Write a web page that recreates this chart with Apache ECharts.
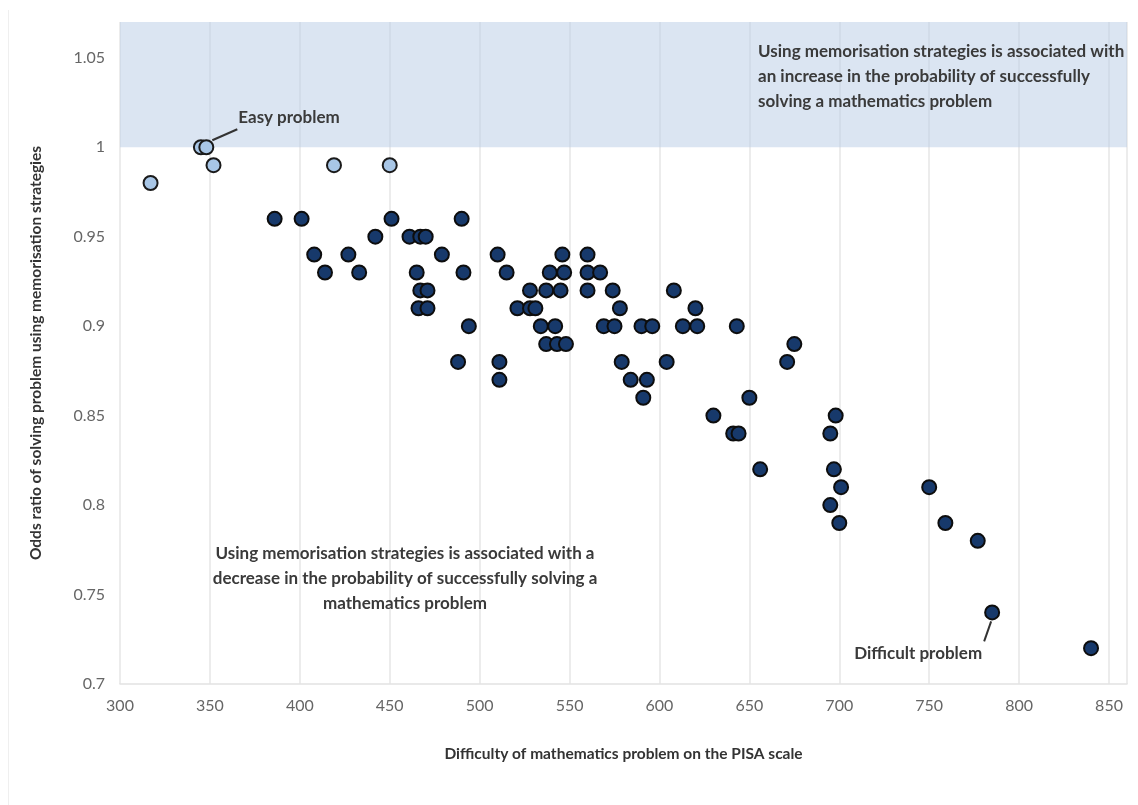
<!DOCTYPE html>
<html>
<head>
<meta charset="utf-8">
<script src="https://cdn.jsdelivr.net/npm/echarts@6/dist/echarts.min.js"></script>
<style>
html,body{margin:0;padding:0;background:#fff;}
#chart{width:1138px;height:805px;}
</style>
</head>
<body>
<div id="chart"></div>
<script>
// Easy problems (odds ratio >= 0.98, light points)
const easyX = [345, 348, 352, 317, 419, 450];
const easyY = [1.00, 1.00, 0.99, 0.98, 0.99, 0.99];

// Other problems (dark points)
const probX = [
  386, 401, 451, 490,
  442, 461, 467, 470,
  408, 427, 479, 510, 546, 560,
  414, 433, 465, 491, 515, 539, 547, 560, 567,
  467, 471, 528, 537, 545, 560, 574, 608,
  466, 471, 521, 528, 531, 578, 620,
  494, 534, 542, 569, 575, 590, 596, 613, 621, 643,
  537, 543, 548, 675,
  488, 511, 579, 604, 671,
  511, 584, 593,
  591, 650,
  630, 698,
  641, 644, 695,
  656, 697,
  701, 750,
  695,
  700, 759,
  777,
  785,
  840
];
const probY = [
  0.96, 0.96, 0.96, 0.96,
  0.95, 0.95, 0.95, 0.95,
  0.94, 0.94, 0.94, 0.94, 0.94, 0.94,
  0.93, 0.93, 0.93, 0.93, 0.93, 0.93, 0.93, 0.93, 0.93,
  0.92, 0.92, 0.92, 0.92, 0.92, 0.92, 0.92, 0.92,
  0.91, 0.91, 0.91, 0.91, 0.91, 0.91, 0.91,
  0.90, 0.90, 0.90, 0.90, 0.90, 0.90, 0.90, 0.90, 0.90, 0.90,
  0.89, 0.89, 0.89, 0.89,
  0.88, 0.88, 0.88, 0.88, 0.88,
  0.87, 0.87, 0.87,
  0.86, 0.86,
  0.85, 0.85,
  0.84, 0.84, 0.84,
  0.82, 0.82,
  0.81, 0.81,
  0.80,
  0.79, 0.79,
  0.78,
  0.74,
  0.72
];

// Axis settings
const xMin = 300, xMax = 860, xStep = 50;
const yMin = 0.7, yMax = 1.07, yStep = 0.05;
const bandFrom = 1.0;

// Annotations
const easyLabel = 'Easy problem';
const easyPoint = [348, 1.00];
const hardLabel = 'Difficult problem';
const hardPoint = [785, 0.74];
const topNote = ['Using memorisation strategies is associated with',
                 'an increase in the probability of successfully',
                 'solving a mathematics problem'];
const bottomNote = ['Using memorisation strategies is associated with a',
                    'decrease in the probability of successfully solving a',
                    'mathematics problem'];
const xTitle = 'Difficulty of mathematics problem on the PISA scale';
const yTitle = 'Odds ratio of solving problem using memorisation strategies';

const easyData = easyX.map((x, i) => [x, easyY[i]]);
const probData = probX.map((x, i) => [x, probY[i]]);

const FONT = 'Lato, "Open Sans", sans-serif';
const chart = echarts.init(document.getElementById('chart'), null, {renderer: 'canvas'});

chart.setOption({
  backgroundColor: '#ffffff',
  animation: false,
  grid: {left: 120, right: 11, top: 22, bottom: 121, containLabel: false},
  xAxis: {
    type: 'value', min: xMin, max: xMax, interval: xStep,
    name: xTitle, nameLocation: 'middle', nameGap: 62,
    nameTextStyle: {fontFamily: FONT, fontWeight: 'bold', fontSize: 15.5, color: '#333'},
    axisLine: {show: true, lineStyle: {color: '#e2e2e2', width: 1.5}},
    axisTick: {show: false},
    axisLabel: {fontFamily: FONT, fontSize: 16, color: '#666', margin: 14,
      formatter: v => (Math.round(v) % xStep === 0 ? String(v) : '')},
    splitLine: {show: true, lineStyle: {color: '#e6e6e6', width: 1.5}}
  },
  yAxis: {
    type: 'value', min: yMin, max: yMax, interval: yStep,
    name: yTitle, nameLocation: 'middle', nameGap: 76, nameRotate: 90,
    nameTextStyle: {fontFamily: FONT, fontWeight: 'bold', fontSize: 15.5, color: '#333'},
    axisLine: {show: false},
    axisTick: {show: false},
    axisLabel: {fontFamily: FONT, fontSize: 16, color: '#666', margin: 15,
      formatter: v => {
        const r = Math.round(v * 100);
        if (r % 5 !== 0) return '';
        return String(r / 100);
      }},
    splitLine: {show: false}
  },
  series: [
    {
      type: 'scatter', data: [], z: 1, silent: true,
      markArea: {
        silent: true,
        itemStyle: {color: 'rgba(183,204,230,0.5)'},
        data: [[{xAxis: xMin, yAxis: bandFrom}, {xAxis: xMax, yAxis: yMax}]]
      }
    },
    {
      type: 'scatter', data: probData, z: 3, symbolSize: 14,
      itemStyle: {color: '#17396b', borderColor: '#0d0d0d', borderWidth: 2, opacity: 1}
    },
    {
      type: 'scatter', data: easyData, z: 4, symbolSize: 14,
      itemStyle: {color: '#a8c6e6', borderColor: '#1a1a1a', borderWidth: 2, opacity: 1}
    }
  ]
});

function drawAnnotations() {
  const ep = chart.convertToPixel({gridIndex: 0}, easyPoint);
  const hp = chart.convertToPixel({gridIndex: 0}, hardPoint);
  const txt = {fontFamily: FONT, fontWeight: 'bold', fontSize: 17, fill: '#3a3a3a'};
  const g = [];
  // frame line on the left
  g.push({type: 'line', shape: {x1: 8.5, y1: 10, x2: 8.5, y2: 805}, style: {stroke: '#efefef', lineWidth: 1}, z: 0});
  // easy problem
  g.push({type: 'line', shape: {x1: ep[0] + 6, y1: ep[1] - 7, x2: ep[0] + 31, y2: ep[1] - 18},
          style: {stroke: '#333', lineWidth: 2}, z: 10});
  g.push({type: 'text', x: ep[0] + 32, y: ep[1] - 30,
          style: Object.assign({text: easyLabel, textAlign: 'left', textVerticalAlign: 'middle'}, txt), z: 10});
  // difficult problem
  g.push({type: 'line', shape: {x1: hp[0] - 1, y1: hp[1] + 9, x2: hp[0] - 8, y2: hp[1] + 29},
          style: {stroke: '#333', lineWidth: 2}, z: 10});
  g.push({type: 'text', x: hp[0] - 10, y: hp[1] + 41,
          style: Object.assign({text: hardLabel, textAlign: 'right', textVerticalAlign: 'middle'}, txt), z: 10});
  // top-right note
  topNote.forEach((line, i) => {
    g.push({type: 'text', x: 758, y: 52 + i * 25,
            style: Object.assign({text: line, textAlign: 'left', textVerticalAlign: 'middle'}, txt), z: 10});
  });
  // bottom note
  bottomNote.forEach((line, i) => {
    g.push({type: 'text', x: 405, y: 554 + i * 25,
            style: Object.assign({text: line, textAlign: 'center', textVerticalAlign: 'middle'}, txt), z: 10});
  });
  chart.setOption({graphic: g});
}
drawAnnotations();
</script>
</body>
</html>
